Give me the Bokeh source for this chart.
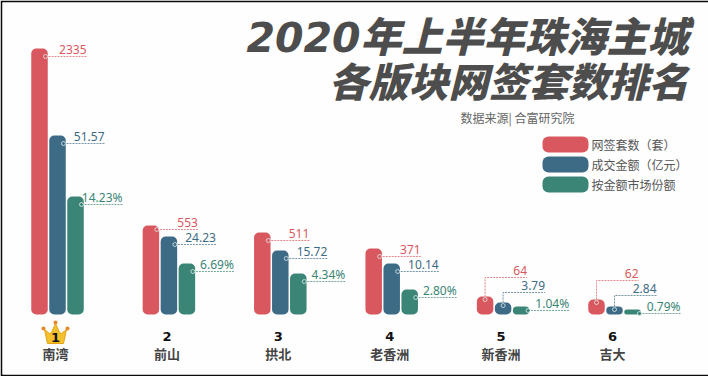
from bokeh.plotting import figure
from bokeh.models import Range1d
from bokeh.core.properties import value
from bokeh.embed import file_html
from bokeh.resources import INLINE

districts = ["南湾", "前山", "拱北", "老香洲", "新香洲", "吉大"]
ranks = ["", "2", "3", "4", "5", "6"]
units_label = ["2335", "553", "511", "371", "64", "62"]
amount_label = ["51.57", "24.23", "15.72", "10.14", "3.79", "2.84"]
share_label = ["14.23%", "6.69%", "4.34%", "2.80%", "1.04%", "0.79%"]
# bar heights as drawn in the picture (the original is not to a common scale)
units_bar = [266, 89, 82, 66, 18, 15]
amount_bar = [179, 78, 64, 51, 12, 8]
share_bar = [118, 51, 41, 25, 8, 5]
series_names = ["网签套数（套）", "成交金额（亿元）", "按金额市场份额"]
RED, BLUE, GREEN = "#d9585f", "#3d6b85", "#3a8575"
title_lines = ["2020年上半年珠海主城", "各版块网签套数排名"]
source = "数据来源| 合富研究院"

# layout: the frame is inset by the screenshot's dark edge
W, H = 708, 376
EDGE_L, EDGE_T, EDGE_B = 2, 2, 2
GROUP = 111.4
PX = 1 / GROUP


def gx(page_x):
    return (page_x - 57) * PX


def gy(page_y):
    return 314 - page_y


p = figure(width=W, height=H, output_backend="svg", toolbar_location=None,
           x_range=Range1d(gx(EDGE_L), gx(W)),
           y_range=Range1d(gy(H - EDGE_B), gy(EDGE_T)),
           min_border_left=EDGE_L, min_border_top=EDGE_T, min_border_bottom=EDGE_B, min_border_right=0,
           background_fill_color="#fefefe", border_fill_color="#0a0a0a")
p.axis.visible = False
p.grid.visible = False
p.outline_line_color = None

xs = list(range(len(districts)))
series = [(units_bar, units_label, RED, -1), (amount_bar, amount_label, BLUE, 0), (share_bar, share_label, GREEN, 1)]
STEP = 18 * PX
BAR_W = 16.5 * PX
SANS = value("Noto Sans")
CJK = value("Noto Sans CJK SC")

for s, (bars, labels, color, off) in enumerate(series):
    centers = [x + off * STEP for x in xs]
    p.vbar(x=centers, top=bars, bottom=0, width=BAR_W, fill_color=color, line_color=None, border_radius=5)
    for i, (cx, h, lab) in enumerate(zip(centers, bars, labels)):
        if i >= 4 and s < 2:
            # short bars: elbow leader from the middle of the bar
            x_start = cx
            y_start = h - 3
            y_line = h + {(4, 0): 19, (4, 1): 10, (5, 0): 19, (5, 1): 11}[(i, s)]
            x_end = cx + 42 * PX
            lx, ly = [x_start, x_start, x_end], [y_start, y_line, y_line]
        else:
            x_start = cx + 6 * PX
            if i >= 4:
                y_start = h - 4
                x_start = cx + 7 * PX
            else:
                y_start = h - (4 if (i, s) in ((1, 0),) else 8)
            y_line = y_start
            x_end = x_start + 41 * PX
            lx, ly = [x_start, x_end], [y_start, y_start]
        p.line(lx, ly, line_color=color, line_width=1, line_dash="2 1", line_alpha=0.7)
        p.scatter([x_start], [y_start], size=4, marker="circle", fill_color=color, line_color="#dfeeee", line_width=0.8)
        p.text([x_end], [y_line], text=[lab], text_color=color, text_font=SANS, text_font_size="12px",
               text_align="right", text_baseline="alphabetic", y_offset=-7)

# legend
for row, (name, color) in enumerate(zip(series_names, (RED, BLUE, GREEN))):
    yc = gy(144 + 20 * row)
    p.hbar(y=[yc], left=[gx(542)], right=[gx(588)], height=16, fill_color=color, line_color=None, border_radius=6)
    p.text([gx(591)], [yc], text=[name], text_color="#555555", text_font=CJK, text_font_size="12px",
           text_align="left", text_baseline="middle")

# titles
TITLE_FONT = value("'DejaVu Sans','Noto Sans CJK SC Black','Noto Sans CJK SC'")
p.text([gx(688)], [gy(37)], text=[title_lines[0]], text_color="#4d4d4d", text_font=TITLE_FONT,
       text_font_size="41px", text_font_style="bold italic", text_align="right", text_baseline="middle")
p.text([gx(688)], [gy(82)], text=[title_lines[1]], text_color="#4d4d4d", text_font=TITLE_FONT,
       text_font_size="40px", text_font_style="bold italic", text_align="right", text_baseline="middle")
p.text([gx(517)], [gy(117)], text=[source], text_color="#666666", text_font=CJK, text_font_size="12px",
       text_align="center", text_baseline="middle")

# category labels
NAME_CX = [x - 2 * PX for x in xs]
p.text(NAME_CX, [gy(353)] * 6, text=districts, text_color="#444444", text_font=CJK, text_font_size="13px",
       text_font_style="bold", text_align="center", text_baseline="middle")
p.text(NAME_CX, [gy(336)] * 6, text=ranks, text_color="#111111", text_font=value("DejaVu Sans"), text_font_size="13px",
       text_font_style="bold", text_align="center", text_baseline="middle")

# crown ornament for rank 1
crown = [(-8, 7), (-11, -7), (-6, -3), (-4, -4), (0, -13), (4, -4), (6, -3), (11, -7), (8, 7)]
p.patch([gx(55 + a) for a, b in crown], [gy(336 + b) for a, b in crown], fill_color="#f5c02c", line_color="#e6a214")
for a, b in [(-12, -8), (0, -14), (12, -8)]:
    p.scatter([gx(55 + a)], [gy(336 + b)], size=4, marker="circle", fill_color="#e8862a", line_color=None)
p.text([gx(55)], [gy(337)], text=["1"], text_color="#111111", text_font=value("DejaVu Sans"), text_font_size="13px",
       text_font_style="bold", text_align="center", text_baseline="middle")

open("out.html", "w").write(file_html(p, INLINE))
